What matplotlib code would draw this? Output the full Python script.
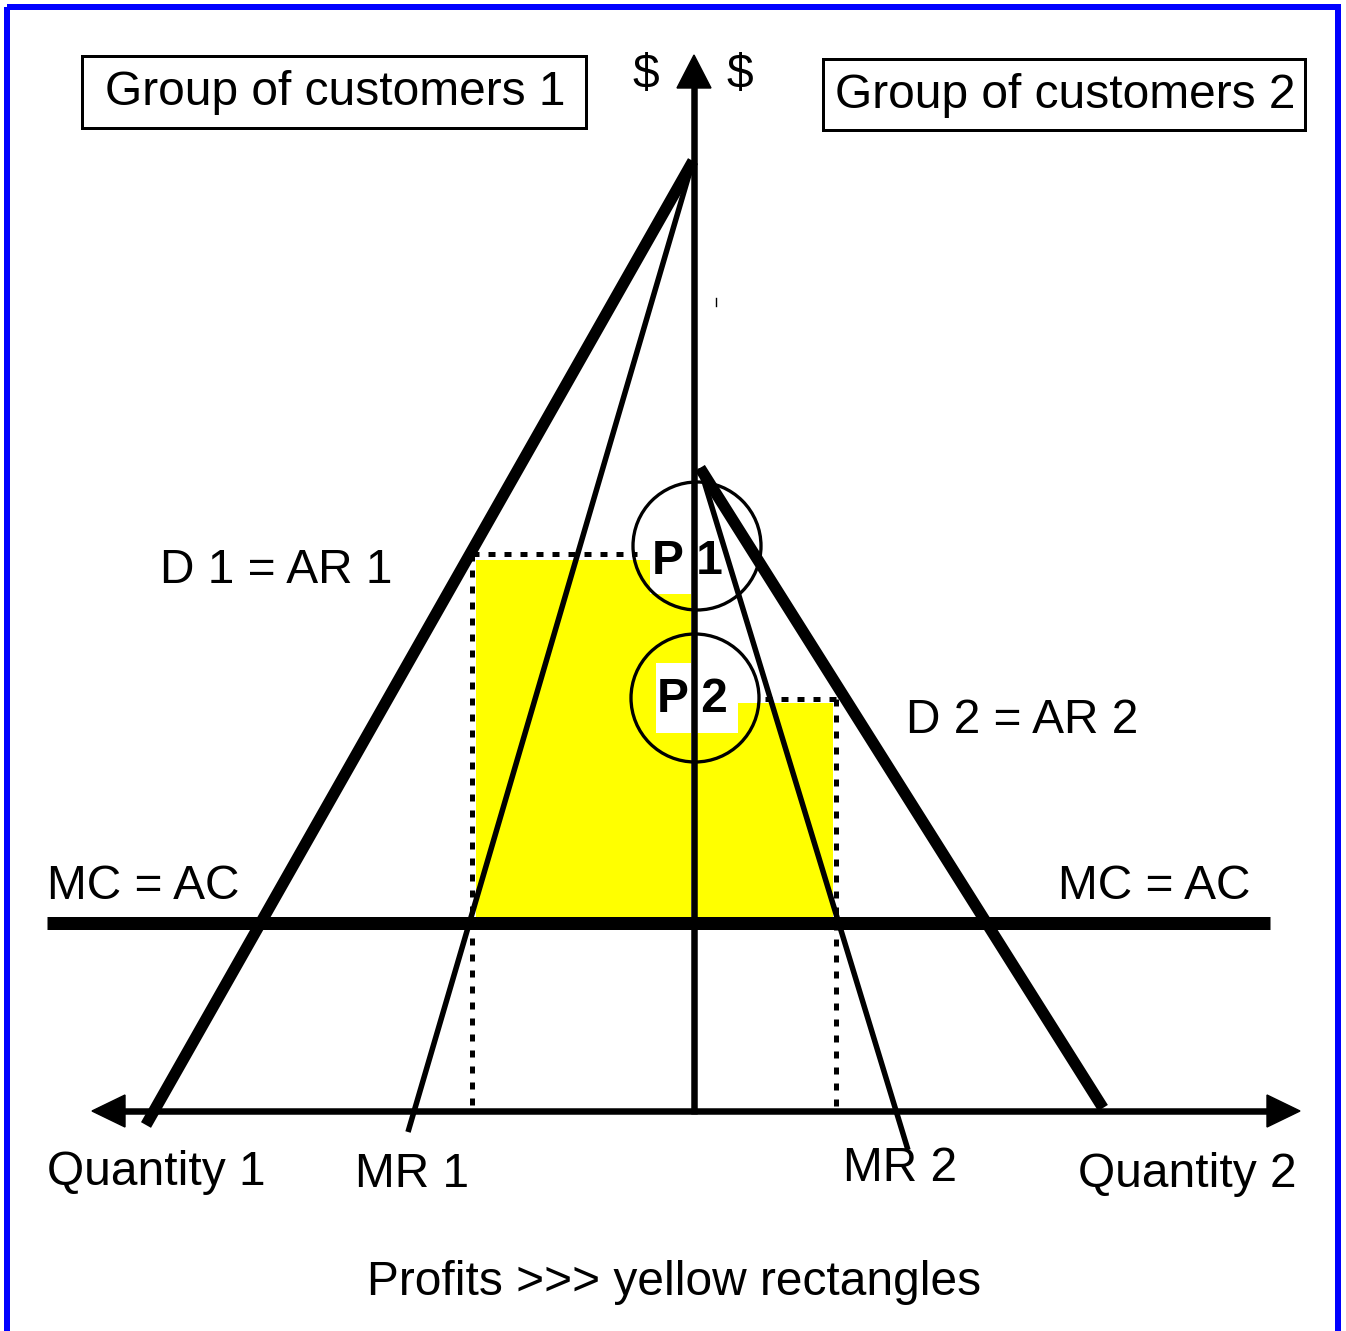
import matplotlib.pyplot as plt
from matplotlib.patches import Rectangle, Polygon, Circle

plt.rcParams['font.family'] = ['Liberation Sans', 'DejaVu Sans']

# diagram geometry in picture pixels (x to the right, y downward)
axis_origin = (694, 1111)
axis_top = 55
axis_left, axis_right = 92, 1300

apex1 = (693, 161)
d1_end = (146, 1125)
mr1_end = (408, 1132)

apex2 = (700, 468)
d2_end = (1103, 1108)
mr2_end = (908, 1150)

mc_y = 923
mc_x = (47, 1270)

p1_y, q1_x = 554, 472
p2_y, q2_x = 699, 836

# profit rectangles: (x0, y0, x1, y1)
profit_rects = [(476, 560, 691, 918), (697, 703, 833, 918)]
# white text backgrounds that cut into the yellow
label_patches = [(650, 560, 691, 594), (656, 663, 738, 733)]

circles = [(697, 546, 64), (695, 698, 64)]

fig = plt.figure(figsize=(13.46, 13.31), dpi=100)
ax = fig.add_axes([0, 0, 1, 1])
ax.set_xlim(0, 1346)
ax.set_ylim(1331, 0)
ax.axis('off')

px = 0.72  # points per pixel

# outer blue frame
ax.add_patch(Rectangle((7, 7), 1331, 1340, fill=False, edgecolor='#0000ff',
                       linewidth=6 * px, zorder=1))

# yellow profits
for x0, y0, x1, y1 in profit_rects:
    ax.add_patch(Rectangle((x0, y0), x1 - x0, y1 - y0, facecolor='#ffff00',
                           edgecolor='none', zorder=1))
for x0, y0, x1, y1 in label_patches:
    ax.add_patch(Rectangle((x0, y0), x1 - x0, y1 - y0, facecolor='white',
                           edgecolor='none', zorder=1.5))

# dotted price / quantity guides
dots = dict(color='black', linewidth=5 * px, linestyle=(0, (1.4, 1.8)),
            dash_capstyle='butt', zorder=2)
ax.plot([q1_x, 637], [p1_y, p1_y], **dots)
ax.plot([q1_x, q1_x], [p1_y, axis_origin[1]], **dots)
ax.plot([765, q2_x], [p2_y, p2_y], **dots)
ax.plot([q2_x, q2_x], [p2_y, axis_origin[1]], **dots)

# MC = AC
ax.plot(mc_x, [mc_y, mc_y], color='black', linewidth=13 * px,
        solid_capstyle='butt', zorder=3)

# demand and marginal revenue
ax.plot([apex1[0], d1_end[0]], [apex1[1], d1_end[1]], color='black',
        linewidth=11.5 * px, solid_capstyle='butt', zorder=3)
ax.plot([apex1[0], mr1_end[0]], [apex1[1], mr1_end[1]], color='black',
        linewidth=5.5 * px, solid_capstyle='butt', zorder=3)
ax.plot([apex2[0], d2_end[0]], [apex2[1], d2_end[1]], color='black',
        linewidth=11.5 * px, solid_capstyle='butt', zorder=3)
ax.plot([apex2[0], mr2_end[0]], [apex2[1], mr2_end[1]], color='black',
        linewidth=5.5 * px, solid_capstyle='butt', zorder=3)

# axes with arrow heads
ox, oy = axis_origin
ax.plot([ox, ox], [oy + 3, axis_top + 30], color='black', linewidth=6.5 * px,
        solid_capstyle='butt', zorder=4)
ax.plot([axis_left + 30, axis_right - 30], [oy, oy], color='black',
        linewidth=6.5 * px, solid_capstyle='butt', zorder=4)
ax.add_patch(Polygon([(ox, axis_top), (ox - 17, axis_top + 33), (ox + 17, axis_top + 33)],
                     closed=True, color='black', zorder=4))
ax.add_patch(Polygon([(axis_left, oy), (axis_left + 33, oy - 16), (axis_left + 33, oy + 16)],
                     closed=True, color='black', zorder=4))
ax.add_patch(Polygon([(axis_right, oy), (axis_right - 33, oy - 16), (axis_right - 33, oy + 16)],
                     closed=True, color='black', zorder=4))
ax.plot([716, 716], [298, 306], color='black', linewidth=1, zorder=4)

# price circles
for cx, cy, r in circles:
    ax.add_patch(Circle((cx, cy), r, fill=False, edgecolor='black',
                        linewidth=3.3 * px, zorder=5))

fs = 34.5
ax.text(652, 574, 'P 1', fontsize=fs, fontweight='bold', ha='left',
        va='baseline', zorder=6)
ax.text(657, 712, 'P 2', fontsize=fs, fontweight='bold', ha='left',
        va='baseline', zorder=6)

# group boxes
ax.add_patch(Rectangle((82, 56), 504, 72, fill=False, edgecolor='black',
                       linewidth=3 * px, zorder=5))
ax.add_patch(Rectangle((823, 59), 482, 71, fill=False, edgecolor='black',
                       linewidth=3 * px, zorder=5))
ax.text(105, 105, 'Group of customers 1', fontsize=fs, va='baseline', zorder=6)
ax.text(835, 108, 'Group of customers 2', fontsize=fs, va='baseline', zorder=6)

ax.text(646, 88, '$', fontsize=fs, ha='center', va='baseline', zorder=6)
ax.text(740, 88, '$', fontsize=fs, ha='center', va='baseline', zorder=6)

labels = [
    (160, 583, 'D 1 = AR 1'),
    (906, 733, 'D 2 = AR 2'),
    (47, 899, 'MC = AC'),
    (1058, 899, 'MC = AC'),
    (47, 1185, 'Quantity 1'),
    (355, 1187, 'MR 1'),
    (843, 1181, 'MR 2'),
    (1078, 1187, 'Quantity 2'),
]
for x, y, s in labels:
    ax.text(x, y, s, fontsize=fs, ha='left', va='baseline', zorder=6)

ax.text(674, 1295, 'Profits >>> yellow rectangles', fontsize=fs,
        ha='center', va='baseline', zorder=6)

fig.savefig('out.png', dpi=100)
